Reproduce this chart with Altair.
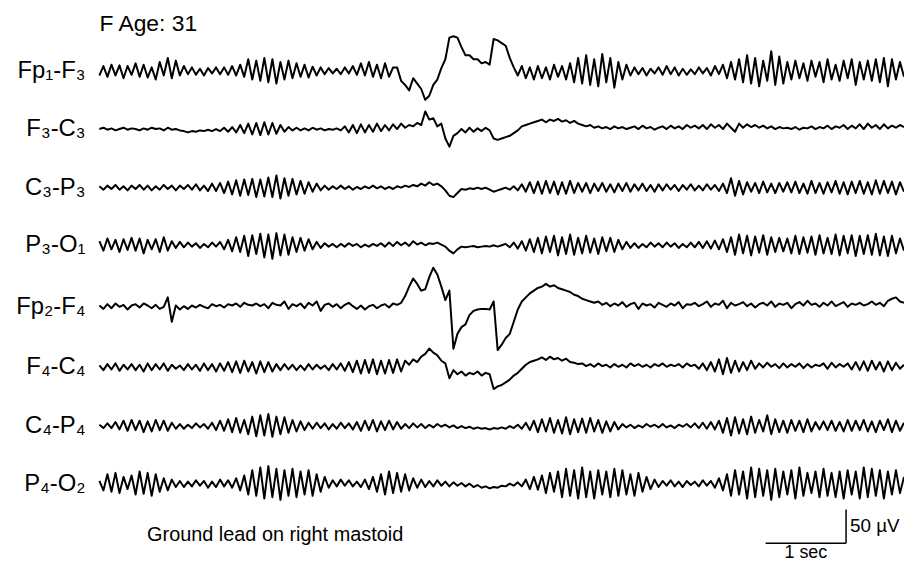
import altair as alt
import pandas as pd

# ---------------- data (µV, one sample every 0.05 s) ----------------
CHANNELS = ["Fp₁-F₃", "F₃-C₃", "C₃-P₃", "P₃-O₁", "Fp₂-F₄", "F₄-C₄", "C₄-P₄", "P₄-O₂"]

FP1_F3 = [
    -6, 8, -8, 10, -6, 9, -10, 8, -5, 12,
    -8, 10, -9, 6, -12, 14, -6, 20, -10, 16,
    -6, 8, -4, 6, -5, 4, -6, 5, -3, 6,
    -4, 6, -5, 8, -6, 10, -8, 18, -12, 16,
    -14, 20, -16, 18, -18, 14, -12, 16, -10, 12,
    -8, 10, -9, 7, -6, 6, -4, 5, -3, 4,
    -4, 6, -3, 8, -5, 12, -6, 14, -8, 10,
    -10, 12, -8, 6, 6, -14, -20, -28, -10, -18,
    -26, -42, -36, -20, -12, 5, 18, 50, 52, 50,
    36, 24, 24, 18, 18, 12, 14, 10, 48, 46,
    42, 38, 20, 6, -6, 8, -10, 6, -12, 8,
    -10, 6, -12, 10, -8, 8, -12, 12, -16, 20,
    -18, 24, -20, 18, -22, 26, -16, 20, -24, 14,
    -12, 10, -6, 6, -4, 5, -6, 4, -3, 6,
    -5, 8, -4, 6, -6, 4, -5, 3, -4, 6,
    -3, 5, -6, 8, -4, 10, -10, 14, -12, 18,
    -16, 24, -18, 20, -22, 16, -14, 30, -20, 22,
    -18, 14, -12, 16, -10, 12, -14, 16, -8, 14,
    -16, 18, -12, 10, -14, 16, -10, 18, -20, 14,
    -12, 16, -14, 18, -16, 20, -22, 18, -12, 14, -8,
]

F3_C3 = [
    0, 2, -1, 1, -2, 0, 2, -1, 1, 0,
    -2, 1, -1, 2, 0, 1, -2, 2, -1, 0,
    -2, -3, -5, -3, -4, -2, -3, -1, -3, 0,
    -3, 2, -4, 3, -5, 6, -6, 8, -8, 9,
    -9, 10, -8, 9, -7, 6, -4, 3, -2, 2,
    -2, 1, -2, 2, -1, 1, -2, 0, -1, 1,
    -2, 4, -5, 6, -6, 7, -5, 6, -4, 8,
    -3, 6, -2, 7, 0, 8, 2, 6, 4, 9,
    6, 26, 14, 16, 4, 8, -14, -26, -10, -6,
    0, -5, 2, -4, 1, -3, 2, -2, -14, -16,
    -14, -12, -10, -6, -2, 4, 6, 8, 10, 12,
    14, 10, 14, 12, 15, 11, 13, 9, 12, 8,
    6, 4, 6, 2, 4, 1, 3, 0, 4, 1,
    3, 0, 2, 4, 0, 5, 1, 3, -1, 2,
    4, 0, 5, 1, 4, 0, 6, 2, 5, 1,
    6, 0, 7, 2, 6, 0, 8, 2, -4, 8,
    2, 7, 3, 6, 2, 5, 1, 4, 0, 3,
    1, 2, 0, 3, -1, 2, 1, 4, 0, 3,
    1, 5, 0, 4, 2, 6, 0, 5, 1, 7,
    0, 8, 2, 6, 0, 7, 1, 5, 2, 6, 3,
]

C3_P3 = [
    2, -3, 3, -2, 4, -3, 2, -4, 3, -2,
    4, -3, 3, -4, 2, -3, 4, -2, 3, -4,
    3, -2, 4, -3, 5, -4, 3, -5, 6, -5,
    7, -8, 9, -10, 11, -12, 12, -11, 13, -14,
    12, -13, 15, -14, 18, -16, 14, -12, 13, -10,
    10, -9, 8, -6, 6, -4, 3, -3, 2, -2,
    3, -2, 2, -3, 1, -2, 2, -1, 3, -1,
    2, -2, 1, -2, 2, 0, 3, 1, 4, 2,
    6, 3, 8, 4, 6, 2, -4, -12, -14, -8,
    -2, -3, -1, -2, 0, -2, 0, -3, -6, -4,
    -2, 0, -3, 2, -4, 5, -6, 8, -8, 9,
    -9, 10, -8, 9, -10, 8, -9, 10, -8, 7,
    -6, 7, -8, 6, -5, 7, -6, 5, -7, 6,
    -5, 7, -6, 5, -4, 6, -5, 4, -6, 5,
    -4, 5, -3, 4, -5, 4, -3, 5, -4, 3,
    -4, 5, -3, 4, -5, 6, -8, 14, -12, 10,
    -10, 8, -6, 7, -8, 9, -7, 6, -8, 7,
    -6, 8, -7, 9, -8, 6, -9, 10, -8, 7,
    -9, 8, -7, 10, -9, 8, -10, 9, -8, 10,
    -9, 8, -10, 11, -9, 10, -8, 9, -10, 8, -6,
]

P3_O1 = [
    6, -8, 10, -6, 8, -10, 9, -7, 11, -8,
    10, -12, 8, -6, 9, -10, 12, -8, 6, -4,
    5, -3, 4, -2, 3, -4, 2, -3, 4, -2,
    5, -6, 8, -9, 12, -10, 14, -16, 15, -13,
    17, -18, 16, -20, 18, -15, 16, -14, 12, -10,
    11, -8, 9, -6, 5, -4, 3, -2, 2, -3,
    2, -2, 3, -1, 2, -3, 1, -2, 2, -1,
    3, -2, 4, -1, 5, 0, 4, -1, 6, 1,
    4, 0, 3, 2, 4, 1, -2, -8, -12, -6,
    -2, -3, -2, -1, -3, -2, -1, -2, 0, -2,
    0, 2, -3, 4, -5, 6, -8, 9, -10, 11,
    -12, 13, -10, 14, -15, 12, -13, 16, -14, 11,
    -12, 14, -11, 10, -13, 12, -9, 11, -10, 8,
    -6, 5, -4, 3, -4, 2, -3, 4, -2, 3,
    -3, 4, -2, 3, -4, 2, -3, 4, -3, 5,
    -4, 6, -5, 7, -6, 9, -10, 12, -14, 16,
    -12, 14, -15, 13, -11, 15, -14, 12, -10, 11,
    -9, 10, -12, 14, -13, 12, -11, 13, -14, 15,
    -12, 11, -13, 16, -15, 14, -12, 15, -16, 14,
    -13, 15, -14, 17, -15, 13, -16, 14, -12, 10, -8,
]

FP2_F4 = [
    2, -3, 4, -2, 5, 0, 3, -4, 2, 4,
    -1, 5, 2, -2, 3, -3, 0, 14, -22, 2,
    -4, 1, -3, 2, -1, 3, 0, -2, 4, 1,
    3, -1, 4, 2, 5, 0, 6, 3, 2, 5,
    1, 4, -2, 6, 3, 2, 8, -3, 4, 1,
    5, -2, 6, 2, 8, -6, 3, 5, 0, 4,
    -2, 3, 6, 1, -3, 2, -4, 1, 3, -2,
    2, 4, -1, 5, 3, 6, 16, 30, 42, 34,
    24, 26, 44, 58, 48, 30, 10, 24, -62, -40,
    -30, -26, -12, -6, -4, -3, -3, -4, 8, -64,
    -56, -46, -40, -22, -4, 8, 14, 20, 24, 28,
    30, 34, 30, 32, 28, 26, 24, 22, 18, 16,
    12, 10, 8, 6, 8, 3, 6, 1, 5, 2,
    7, 0, 4, 6, -3, 5, 2, 4, -1, 6,
    3, 0, 5, 2, 7, -2, 4, 3, 6, 1,
    4, 8, 0, 5, 3, 9, -2, 6, 2, 4,
    7, 1, 5, -1, 4, 6, 2, 8, 0, 5,
    3, 6, -2, 4, 7, 2, 9, 3, 5, 0,
    6, 2, 8, 1, 4, 7, 0, 5, 3, 6,
    2, 4, 8, 3, 6, 1, 9, 12, 14, 8, 6,
]

F4_C4 = [
    3, -4, 5, -3, 6, -5, 4, -3, 5, -4,
    4, -6, 6, -4, 5, -3, 6, -5, 4, -2,
    3, -4, 5, -3, 4, -5, 6, -4, 5, -6,
    6, -5, 8, -7, 9, -8, 10, -6, 8, -9,
    9, -7, 8, -6, 5, -4, 5, -3, 4, -4,
    3, -4, 5, -3, 4, -2, 3, -4, 5, -3,
    6, -5, 8, -7, 10, -9, 11, -8, 12, -10,
    10, -9, 11, -8, 12, -6, 10, 4, 12, 8,
    16, 20, 28, 22, 18, 10, 6, -16, -4, -10,
    -6, -12, -8, -10, -6, -12, -8, -10, -32, -28,
    -26, -22, -18, -12, -8, -2, 4, 8, 10, 12,
    15, 11, 16, 12, 14, 10, 13, 8, 7, 5,
    6, 2, 5, 1, 6, 2, 4, 0, 5, 1,
    4, 0, 6, 2, 5, 1, 4, 0, 5, 2,
    6, 1, 4, 2, 5, 0, 6, 2, 4, -2,
    6, -4, 8, -6, 12, -10, 14, -8, 10, -6,
    8, -4, 10, -2, 6, 0, 7, 1, 5, -1,
    6, 0, 5, 1, 6, -1, 5, 0, 4, 2,
    6, -2, 7, 0, 5, 1, 6, -3, 8, -4,
    9, -5, 10, -3, 8, -6, 9, -4, 7, -2, 4,
]

C4_P4 = [
    2, -3, 4, -3, 6, -5, 8, -7, 9, -6,
    8, -9, 7, -8, 9, -6, 8, -7, 5, -4,
    3, -4, 2, -3, 4, -2, 3, -4, 5, -6,
    8, -7, 10, -9, 12, -10, 9, -12, 14, -15,
    16, -14, 18, -16, 14, -12, 13, -10, 9, -8,
    7, -6, 5, -4, 5, -3, 4, -5, 3, -4,
    5, -3, 4, -5, 6, -7, 8, -6, 9, -8,
    7, -6, 8, -5, 6, -4, 3, -3, 4, -2,
    3, -3, 2, -2, 3, -1, 2, -2, 1, -3,
    0, -3, -1, -4, -2, -4, -3, -5, -3, -4,
    -2, -4, 0, -3, 2, -4, 5, -6, 8, -9,
    10, -8, 12, -10, 9, -11, 13, -12, 10, -9,
    11, -10, 12, -8, 9, -10, 7, -8, 6, -5,
    3, -2, 2, -3, 1, -2, 3, -1, 2, -2,
    3, -2, 1, -3, 2, -1, 3, -2, 4, -3,
    5, -4, 6, -5, 8, -10, 12, -14, 13, -11,
    10, -12, 14, -10, 9, -8, 16, -12, 10, -9,
    8, -10, 9, -7, 8, -9, 10, -8, 6, -5,
    7, -6, 8, -7, 6, -8, 9, -7, 8, -6,
    9, -8, 7, -9, 8, -6, 10, -9, 8, -7, 5,
]

P4_O2 = [
    4, -10, 14, -12, 16, -14, 10, -8, 12, -16,
    18, -15, 16, -18, 14, -12, 8, -10, 6, -5,
    4, -5, 3, -4, 5, -3, 4, -6, 3, -5,
    6, -4, 5, -6, 8, -10, 12, -16, 20, -18,
    24, -22, 26, -20, 22, -24, 20, -18, 22, -20,
    18, -16, 20, -18, 14, -12, 10, -6, 5, -4,
    6, -3, 5, -4, 3, -5, 6, -8, 10, -12,
    14, -16, 18, -14, 16, -12, 14, -10, 8, -6,
    6, -5, 4, -4, 5, -3, 3, -4, 2, -3,
    1, -4, 0, -5, -2, -6, -4, -7, -5, -6,
    -3, -4, 0, -3, 2, -4, 6, -8, 10, -9,
    12, -14, 16, -12, 18, -20, 22, -18, 20, -22,
    24, -20, 18, -22, 20, -16, 18, -20, 22, -18,
    20, -16, 14, -18, 16, -12, 10, -8, 6, -5,
    4, -3, 5, -4, 3, -5, 4, -2, 3, -4,
    5, -3, 4, -6, 8, -10, 14, -18, 20, -16,
    18, -22, 24, -20, 22, -18, 20, -24, 22, -20,
    18, -16, 20, -22, 24, -18, 16, -14, 18, -20,
    22, -18, 16, -20, 18, -22, 20, -16, 18, -22,
    24, -20, 22, -18, 20, -22, 18, -16, 20, -14, 10,
]

SERIES = [FP1_F3, F3_C3, C3_P3, P3_O1, FP2_F4, F4_C4, C4_P4, P4_O2]
DT = 0.05            # seconds per sample
SCALE_SEC = 1.0      # calibration bar: 1 sec
SCALE_UV = 50.0      # calibration bar: 50 µV

# ---------------- layout ----------------
PLOT_W, PLOT_H = 810, 548
PX_PER_UV = 0.68
TOP = 8
ROW_PX = [70, 128, 187, 245, 307, 368, 427, 485]   # page y of each trace baseline


def px_to_uv(y):
    return -(y - TOP) / PX_PER_UV


rows = []
lab_rows = []
for name, vals, ypx in zip(CHANNELS, SERIES, ROW_PX):
    off = px_to_uv(ypx)
    lab_rows.append({"ch": name, "y": off})
    for i, v in enumerate(vals):
        rows.append({"ch": name, "t": i * DT, "y": v + off})

df = pd.DataFrame(rows)
labels = pd.DataFrame(lab_rows)

xs = alt.Scale(domain=[0, 10], nice=False, zero=False)
ys = alt.Scale(domain=[-PLOT_H / PX_PER_UV, 0], nice=False, zero=False)
FONT = "Liberation Sans"

traces = alt.Chart(df).mark_line(color="black", strokeWidth=2.0, strokeJoin="round").encode(
    x=alt.X("t:Q", scale=xs, axis=None),
    y=alt.Y("y:Q", scale=ys, axis=None),
    detail="ch:N",
)

chan_text = alt.Chart(labels).mark_text(
    align="right", baseline="middle", fontSize=24, font=FONT, color="black"
).encode(
    x=alt.value(-14),
    y=alt.Y("y:Q", scale=ys, axis=None),
    text="ch:N",
)

bar_t0 = 8.28
bar_y = px_to_uv(545)
notes = pd.DataFrame([
    {"t": 0.0, "y": px_to_uv(22), "txt": "F Age: 31", "size": 23},
    {"t": (148 - 100) / 81, "y": px_to_uv(537), "txt": "Ground lead on right mastoid", "size": 20},
])
note_text = alt.Chart(notes).mark_text(
    align="left", baseline="middle", font=FONT, color="black"
).encode(
    x=alt.X("t:Q", scale=xs, axis=None),
    y=alt.Y("y:Q", scale=ys, axis=None),
    text="txt:N",
    size=alt.Size("size:Q", scale=None, legend=None),
)

hbar = alt.Chart(pd.DataFrame([{"t": bar_t0, "t2": bar_t0 + SCALE_SEC, "y": bar_y}])).mark_rule(
    color="black", strokeWidth=1.5
).encode(
    x=alt.X("t:Q", scale=xs, axis=None), x2="t2:Q",
    y=alt.Y("y:Q", scale=ys, axis=None),
)
vbar = alt.Chart(pd.DataFrame([{"t": bar_t0 + SCALE_SEC, "y": bar_y, "y2": bar_y + SCALE_UV}])).mark_rule(
    color="black", strokeWidth=1.5
).encode(
    x=alt.X("t:Q", scale=xs, axis=None),
    y=alt.Y("y:Q", scale=ys, axis=None), y2="y2:Q",
)
uv_text = alt.Chart(pd.DataFrame([{"t": bar_t0 + SCALE_SEC, "y": bar_y + SCALE_UV / 2, "txt": "50 µV"}])).mark_text(
    align="left", baseline="middle", dx=4, fontSize=19, font=FONT, color="black"
).encode(
    x=alt.X("t:Q", scale=xs, axis=None),
    y=alt.Y("y:Q", scale=ys, axis=None),
    text="txt:N",
)
sec_text = alt.Chart(pd.DataFrame([{"t": bar_t0 + SCALE_SEC / 2, "y": bar_y, "txt": "1 sec"}])).mark_text(
    align="center", baseline="top", dy=1, fontSize=18, font=FONT, color="black"
).encode(
    x=alt.X("t:Q", scale=xs, axis=None),
    y=alt.Y("y:Q", scale=ys, axis=None),
    text="txt:N",
)

chart = alt.layer(traces, chan_text, note_text, hbar, vbar, uv_text, sec_text).properties(
    width=PLOT_W,
    height=PLOT_H,
    autosize=alt.AutoSizeParams(type="none"),
    padding={"left": 92, "top": 0, "right": 0, "bottom": 8},
    background="white",
).configure_view(stroke=None)

chart.save("out.html", embed_options={"renderer": "svg", "actions": False})
